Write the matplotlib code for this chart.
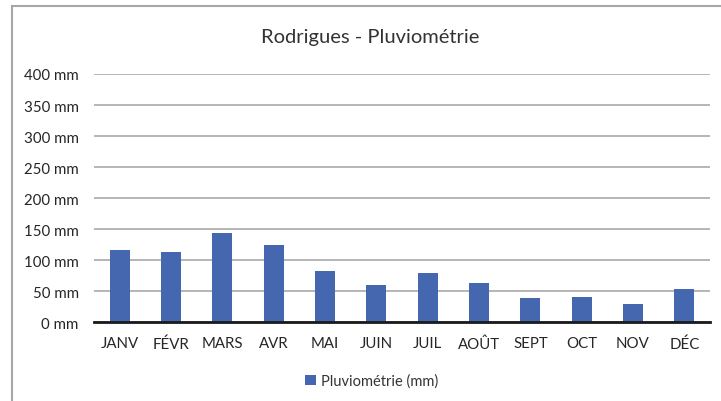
import matplotlib.pyplot as plt
from matplotlib.patches import Rectangle
from matplotlib.ticker import FuncFormatter

plt.rcParams['font.family'] = ['Lato', 'DejaVu Sans']

months = ['JANV', 'FÉVR', 'MARS', 'AVR', 'MAI', 'JUIN',
          'JUIL', 'AOÛT', 'SEPT', 'OCT', 'NOV', 'DÉC']
rain_mm = [116, 114, 144, 125, 82, 60, 80, 63, 39, 41, 30, 54]
y_ticks = [0, 50, 100, 150, 200, 250, 300, 350, 400]

BAR_COLOR = '#4567b0'
W, H = 721, 402

fig = plt.figure(figsize=(W / 100, H / 100), dpi=100)
ax = fig.add_axes([94 / W, 1 - 323.3 / H, 616 / W, 248.3 / H])

x = range(len(months))
ax.bar(x, rain_mm, width=0.39, color=BAR_COLOR, label='Pluviométrie (mm)', zorder=3)

ax.set_xlim(-0.5, len(months) - 0.5)
ax.set_ylim(0, 400)
ax.set_yticks(y_ticks)
ax.yaxis.set_major_formatter(FuncFormatter(lambda v, _: f'{v:.0f} mm'))
ax.set_xticks(list(x))
ax.set_xticklabels(months)
ax.tick_params(axis='both', length=0, labelsize=10.8, colors='#262626')
ax.tick_params(axis='x', pad=10)
ax.tick_params(axis='y', pad=11)

ax.grid(axis='y', color='#b5b5b5', linewidth=1.4, zorder=0)
for side in ['top', 'right', 'left']:
    ax.spines[side].set_visible(False)
ax.spines['bottom'].set_color('#1a1a1a')
ax.spines['bottom'].set_linewidth(2)
ax.spines['bottom'].set_zorder(4)

fig.text(370 / W, 1 - 38 / H, 'Rodrigues - Pluviométrie', ha='center', va='center',
         fontsize=14.5, color='#333333')

fig.legend(loc='center', bbox_to_anchor=(372 / W, 1 - 382 / H), frameon=False,
           fontsize=10.5, handlelength=0.7, handleheight=0.7, handletextpad=0.4,
           labelcolor='#333333')

# chart frame (only left and top edges are visible in the crop)
fig.patches.append(Rectangle((12 / W, -0.2), 1.2, 1.2 - 7 / H, transform=fig.transFigure,
                             fill=False, edgecolor='#a6a6a6', linewidth=1.5))

fig.savefig('out.png', dpi=100)
